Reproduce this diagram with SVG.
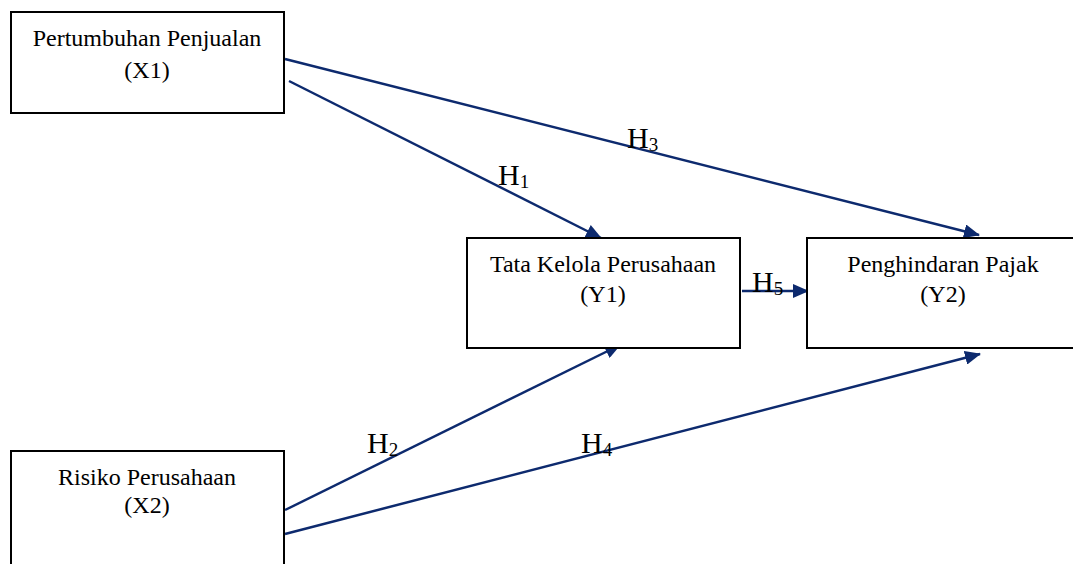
<svg xmlns="http://www.w3.org/2000/svg" width="1073" height="564" viewBox="0 0 1073 564">
<style>
.box{fill:#fff;stroke:#000;stroke-width:2}
.t{font-family:"Liberation Serif","Times New Roman",serif;font-size:24px;fill:#000;text-anchor:middle}
.h{font-family:"Liberation Serif","Times New Roman",serif;font-size:30px;fill:#000}
.s{font-size:19px}
.c{stroke:#0d2a6e;stroke-width:2.5;fill:none;marker-end:url(#ah)}
</style>
<defs>
<marker id="ah" markerUnits="userSpaceOnUse" markerWidth="16" markerHeight="14" refX="15" refY="7" orient="auto">
<path d="M0,0 L16,7 L0,14 Z" fill="#0d2a6e"/>
</marker>
</defs>
<rect width="1073" height="564" fill="#fff"/>
<g id="connectors">
<line class="c" x1="285" y1="59" x2="979" y2="235"/>
<line class="c" x1="289" y1="81" x2="601" y2="238"/>
<line class="c" x1="742" y1="291" x2="808" y2="291"/>
<line class="c" x1="285" y1="510" x2="620" y2="345"/>
<line class="c" x1="285" y1="534" x2="980" y2="354"/>
</g>
<g id="node-x1">
<rect class="box" x="11" y="12" width="273" height="101"/>
<text class="t" x="147" y="46">Pertumbuhan Penjualan</text>
<text class="t" x="147" y="78">(X1)</text>
</g>
<g id="node-y1">
<rect class="box" x="467" y="238" width="273" height="110"/>
<text class="t" x="603" y="272">Tata Kelola Perusahaan</text>
<text class="t" x="603" y="302">(Y1)</text>
</g>
<g id="node-y2">
<rect class="box" x="807" y="238" width="270" height="110"/>
<text class="t" x="943" y="272">Penghindaran Pajak</text>
<text class="t" x="943" y="302">(Y2)</text>
</g>
<g id="node-x2">
<rect class="box" x="11" y="451" width="273" height="120"/>
<text class="t" x="147" y="485">Risiko Perusahaan</text>
<text class="t" x="147" y="513">(X2)</text>
</g>
<g id="labels">
<text class="h" x="627" y="148">H<tspan class="s" dy="3">3</tspan></text>
<text class="h" x="498" y="185">H<tspan class="s" dy="3">1</tspan></text>
<text class="h" x="752" y="292">H<tspan class="s" dy="3">5</tspan></text>
<text class="h" x="367" y="453">H<tspan class="s" dy="3">2</tspan></text>
<text class="h" x="581" y="453">H<tspan class="s" dy="3">4</tspan></text>
</g>
</svg>
